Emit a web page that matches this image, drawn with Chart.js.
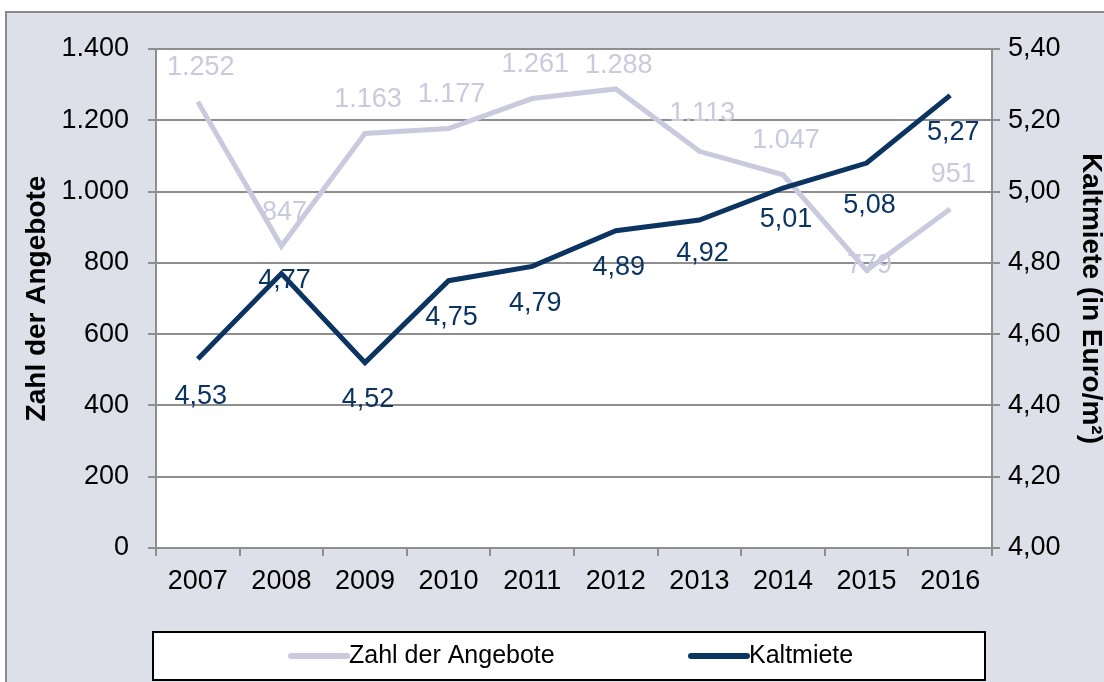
<!DOCTYPE html>
<html>
<head>
<meta charset="utf-8">
<script src="https://cdn.jsdelivr.net/npm/chart.js@4/dist/chart.umd.min.js"></script>
<style>
  html, body { margin: 0; padding: 0; background: #ffffff; }
  #wrap { width: 1104px; height: 682px; }
</style>
</head>
<body>
<div id="wrap"><canvas id="mietChart" width="1104" height="682"></canvas></div>
<script>
const years = ["2007", "2008", "2009", "2010", "2011", "2012", "2013", "2014", "2015", "2016"];
const angebote = [1252, 847, 1163, 1177, 1261, 1288, 1113, 1047, 779, 951];
const kaltmiete = [4.53, 4.77, 4.52, 4.75, 4.79, 4.89, 4.92, 5.01, 5.08, 5.27];
const leftTicks = [0, 200, 400, 600, 800, 1000, 1200, 1400];
const rightTicks = [4.0, 4.2, 4.4, 4.6, 4.8, 5.0, 5.2, 5.4];

const FONT = "'Liberation Sans', Arial, sans-serif";
const LIGHT = "#c9cade";
const NAVY = "#0c3461";
const GRID = "#8e8e8e";

const fmtInt = v => Math.round(v).toLocaleString("de-DE");
const fmtDec = v => v.toFixed(2).replace(".", ",");

// background, plot area and outer frame
const frame = {
    id: "frame",
    beforeDraw(chart) {
        const ctx = chart.ctx;
        const a = chart.chartArea;
        ctx.save();
        ctx.fillStyle = "#ffffff";
        ctx.fillRect(0, 0, chart.width, chart.height);
        ctx.fillStyle = "#dde0e8";
        ctx.fillRect(5, 11, chart.width - 5, chart.height - 11);
        ctx.strokeStyle = "#8a8a8a";
        ctx.lineWidth = 2;
        ctx.strokeRect(6, 12, chart.width + 10, chart.height + 10);
        ctx.fillStyle = "#ffffff";
        ctx.fillRect(a.left, a.top, a.right - a.left, a.bottom - a.top);
        ctx.restore();
    }
};

// value labels next to the points
const valueLabels = {
    id: "valueLabels",
    afterDatasetsDraw(chart, args, opts) {
        const ctx = chart.ctx;
        ctx.save();
        ctx.font = "27px " + FONT;
        ctx.textAlign = "center";
        ctx.textBaseline = "middle";
        chart.data.datasets.forEach((ds, i) => {
            const meta = chart.getDatasetMeta(i);
            const cfg = opts.sets[i];
            ctx.fillStyle = cfg.color;
            meta.data.forEach((pt, j) => {
                const dy = cfg.dy + (cfg.tweak[j] || 0);
                ctx.fillText(cfg.fmt(ds.data[j]), pt.x + 3, pt.y + dy);
            });
        });
        ctx.restore();
    }
};

// boxed legend at the bottom
const boxLegend = {
    id: "boxLegend",
    afterDraw(chart, args, opts) {
        const ctx = chart.ctx;
        const b = opts.box;
        ctx.save();
        ctx.fillStyle = "#ffffff";
        ctx.fillRect(b.x, b.y, b.w, b.h);
        ctx.strokeStyle = "#000000";
        ctx.lineWidth = 2;
        ctx.strokeRect(b.x, b.y, b.w, b.h);
        const cy = b.y + b.h / 2;
        ctx.font = "25px " + FONT;
        ctx.textBaseline = "middle";
        ctx.textAlign = "left";
        chart.data.datasets.forEach((ds, i) => {
            const x0 = opts.starts[i];
            ctx.strokeStyle = ds.borderColor;
            ctx.lineWidth = 6;
            ctx.lineCap = "round";
            ctx.beginPath();
            ctx.moveTo(x0, cy);
            ctx.lineTo(x0 + 56, cy);
            ctx.stroke();
            ctx.fillStyle = "#000000";
            ctx.fillText(ds.label, x0 + 58, cy);
        });
        ctx.restore();
    }
};

new Chart(document.getElementById("mietChart").getContext("2d"), {
    type: "line",
    data: {
        labels: years,
        datasets: [{
            label: "Zahl der Angebote",
            data: angebote,
            yAxisID: "y",
            borderColor: LIGHT,
            borderWidth: 5,
            pointRadius: 0,
            tension: 0,
            order: 1
        }, {
            label: "Kaltmiete",
            data: kaltmiete,
            yAxisID: "y1",
            borderColor: NAVY,
            borderWidth: 5,
            pointRadius: 0,
            tension: 0,
            order: 0
        }]
    },
    options: {
        responsive: false,
        animation: false,
        layout: { padding: { top: 49, left: 0, right: 0, bottom: 0 } },
        plugins: {
            legend: { display: false },
            tooltip: { enabled: false },
            valueLabels: {
                sets: [
                    { color: LIGHT, dy: -34, fmt: fmtInt, tweak: [0, 0, 0, 0, 0, 11, -4, 0, 29, 0] },
                    { color: NAVY, dy: 37, fmt: fmtDec, tweak: [0, -30, 0, 0, 0, 0, -4, -5, 5, 0] }
                ]
            },
            boxLegend: {
                box: { x: 153, y: 632, w: 832, h: 48 },
                starts: [291, 691]
            }
        },
        scales: {
            x: {
                offset: true,
                afterFit: s => { s.height = 134; },
                grid: { offset: true, drawOnChartArea: false, color: GRID, lineWidth: 2, tickLength: 8 },
                border: { color: GRID, width: 2 },
                ticks: { color: "#000000", padding: 9, font: { family: FONT, size: 27 } }
            },
            y: {
                position: "left",
                min: leftTicks[0],
                max: leftTicks[leftTicks.length - 1],
                afterFit: s => { s.width = 156; },
                afterBuildTicks: s => { s.ticks = leftTicks.map(v => ({ value: v })); },
                grid: { color: GRID, lineWidth: 2, tickLength: 8 },
                border: { color: GRID, width: 2 },
                ticks: {
                    color: "#000000", padding: 19,
                    font: { family: FONT, size: 27 },
                    callback: v => fmtInt(v)
                },
                title: {
                    display: true,
                    text: "Zahl der Angebote",
                    color: "#000000",
                    padding: { top: 23, bottom: 0 },
                    font: { family: FONT, size: 28, weight: "bold", lineHeight: 1 }
                }
            },
            y1: {
                position: "right",
                min: rightTicks[0],
                max: rightTicks[rightTicks.length - 1],
                afterFit: s => { s.width = 112; },
                afterBuildTicks: s => { s.ticks = rightTicks.map(v => ({ value: v })); },
                grid: { drawOnChartArea: false, color: GRID, lineWidth: 2, tickLength: 8 },
                border: { color: GRID, width: 2 },
                ticks: {
                    color: "#000000", padding: 8,
                    font: { family: FONT, size: 27 },
                    callback: v => fmtDec(v)
                },
                title: {
                    display: true,
                    text: "Kaltmiete (in Euro/m²)",
                    color: "#000000",
                    padding: { top: -1, bottom: 0 },
                    font: { family: FONT, size: 28, weight: "bold", lineHeight: 1 }
                }
            }
        }
    },
    plugins: [frame, valueLabels, boxLegend]
});
</script>
</body>
</html>
